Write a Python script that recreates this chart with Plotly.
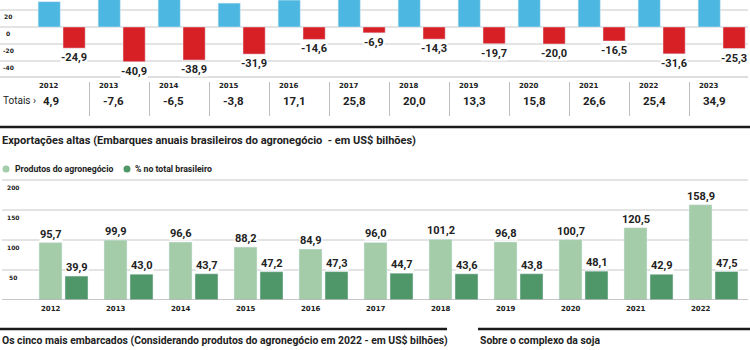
import plotly.graph_objects as go

# ---------------- data ----------------
years_top = ["2012", "2013", "2014", "2015", "2016", "2017", "2018", "2019", "2020", "2021", "2022", "2023"]
exports_top = [29.8, 33.3, 32.4, 28.1, 31.7, 32.7, 34.3, 33.0, 35.8, 43.1, 57.0, 60.2]
imports_top = [-24.9, -40.9, -38.9, -31.9, -14.6, -6.9, -14.3, -19.7, -20.0, -16.5, -31.6, -25.3]
totals_top = ["4,9", "-7,6", "-6,5", "-3,8", "17,1", "25,8", "20,0", "13,3", "15,8", "26,6", "25,4", "34,9"]
top_ticks = [20, 0, -20, -40]

years_bot = ["2012", "2013", "2014", "2015", "2016", "2017", "2018", "2019", "2020", "2021", "2022"]
agro_exports = [95.7, 99.9, 96.6, 88.2, 84.9, 96.0, 101.2, 96.8, 100.7, 120.5, 158.9]
share_total = [39.9, 43.0, 43.7, 47.2, 47.3, 44.7, 43.6, 43.8, 48.1, 42.9, 47.5]
bot_ticks = [200, 150, 100, 50]

title_mid = "Exportações altas (Embarques anuais brasileiros do agronegócio  - em US$ bilhões)"
legend_labels = ["Produtos do agronegócio", "% no total brasileiro"]
title_bot_left = "Os cinco mais embarcados (Considerando produtos do agronegócio em 2022 - em US$ bilhões)"
title_bot_right = "Sobre o complexo da soja"

# ---------------- style ----------------
W, H = 750, 350
BLUE = "#4cb8e2"
RED = "#d71f26"
LGREEN = "#a5cca9"
DGREEN = "#4f9668"
TXT = "#222222"
GRID = "#c8c8c8"
NARROW = "Roboto, sans-serif"
WIDE = "DejaVu Sans, sans-serif"


def py(p):
    return 1 - p / H


def px(p):
    return p / W


def fmt(v):
    return f"{v:.1f}".replace(".", ",")


fig = go.Figure()
xt = list(range(len(years_top)))
xb = list(range(len(years_bot)))

# top chart bars
fig.add_trace(go.Bar(x=xt, y=exports_top, marker_color=BLUE, offset=-0.39, width=0.37,
                     xaxis="x", yaxis="y", hoverinfo="skip"))
fig.add_trace(go.Bar(x=xt, y=imports_top, marker_color=RED, offset=0.025, width=0.37,
                     xaxis="x", yaxis="y", hoverinfo="skip"))
# bottom chart bars
fig.add_trace(go.Bar(x=xb, y=agro_exports, marker_color=LGREEN, offset=-0.377, width=0.354,
                     xaxis="x2", yaxis="y2", hoverinfo="skip"))
fig.add_trace(go.Bar(x=xb, y=share_total, marker_color=DGREEN, offset=0.023, width=0.354,
                     xaxis="x2", yaxis="y2", hoverinfo="skip"))

shapes = []
ann = []

# top gridlines + tick labels
for t in top_ticks:
    shapes.append(dict(type="line", xref="paper", yref="y", x0=0, x1=px(748), y0=t, y1=t,
                       line=dict(color=GRID, width=1), layer="below"))
    ann.append(dict(xref="paper", yref="y", x=px(8), y=t, yshift=-1, text=str(t), showarrow=False,
                    xanchor="center", yanchor="top", font=dict(family=WIDE, size=6, color=TXT,
                                                               weight="bold")))

# bar labels top
for i, v in enumerate(imports_top):
    ann.append(dict(xref="x", yref="y", x=i + 0.21, y=v, yshift=-2, text=fmt(v),
                    showarrow=False, xanchor="center", yanchor="top", bgcolor="white", borderpad=0,
                    font=dict(family=NARROW, size=11, color=TXT, weight="bold")))
for i, v in enumerate(exports_top):
    ann.append(dict(xref="x", yref="y", x=i - 0.205, y=v, yshift=2, text=fmt(v),
                    showarrow=False, xanchor="center", yanchor="bottom", bgcolor="white", borderpad=0,
                    font=dict(family=NARROW, size=11, color=TXT, weight="bold")))

# table under top chart
shapes.append(dict(type="line", xref="paper", yref="paper", x0=0, x1=px(748), y0=py(77), y1=py(77),
                   line=dict(color="#bdbdbd", width=1)))
for i in range(len(years_top) - 1):
    shapes.append(dict(type="line", xref="x", yref="paper", x0=i + 0.467, x1=i + 0.467,
                       y0=py(82), y1=py(116), line=dict(color="#bdbdbd", width=1)))
for i, y in enumerate(years_top):
    ann.append(dict(xref="x", yref="paper", x=i - 0.205, y=py(86), text=y, showarrow=False,
                    xanchor="center", yanchor="middle",
                    font=dict(family=WIDE, size=7, color=TXT, weight="bold")))
    ann.append(dict(xref="x", yref="paper", x=i - 0.345, y=py(100.5), text=totals_top[i], showarrow=False,
                    xanchor="left", yanchor="middle",
                    font=dict(family=NARROW, size=11.5, color=TXT, weight="bold")))
ann.append(dict(xref="paper", yref="paper", x=px(1), y=py(100.5), text="Totais ›", showarrow=False,
                xanchor="left", yanchor="middle", font=dict(family=NARROW, size=10, color=TXT)))

# middle section header
shapes.append(dict(type="line", xref="paper", yref="paper", x0=0, x1=1, y0=py(127), y1=py(127),
                   line=dict(color="#1a1a1a", width=2.5)))
ann.append(dict(xref="paper", yref="paper", x=px(0), y=py(141), text=title_mid, showarrow=False,
                xanchor="left", yanchor="middle",
                font=dict(family=NARROW, size=11, color=TXT, weight="bold")))

# legend
leg = [(6, 13, LGREEN, legend_labels[0]), (127, 133, DGREEN, legend_labels[1])]
for cx, tx, col, lab in leg:
    shapes.append(dict(type="circle", xref="paper", yref="paper", x0=px(cx - 3.5), x1=px(cx + 3.5),
                       y0=py(169 + 3.5), y1=py(169 - 3.5), fillcolor=col, line=dict(width=0)))
    ann.append(dict(xref="paper", yref="paper", x=px(tx), y=py(169), text=lab, showarrow=False,
                    xanchor="left", yanchor="middle",
                    font=dict(family=NARROW, size=8.7, color=TXT, weight="bold")))

# bottom gridlines + ticks
for t in bot_ticks:
    shapes.append(dict(type="line", xref="paper", yref="y2", x0=px(2), x1=px(748), y0=t, y1=t,
                       line=dict(color=GRID, width=1), layer="below"))
    ann.append(dict(xref="paper", yref="y2", x=px(13), y=t, yshift=-2, text=str(t), showarrow=False,
                    xanchor="center", yanchor="top",
                    font=dict(family=WIDE, size=6, color=TXT, weight="bold")))
shapes.append(dict(type="line", xref="paper", yref="y2", x0=px(2), x1=px(748), y0=0, y1=0,
                   line=dict(color="#b5b5b5", width=1.5), layer="above"))

for i, v in enumerate(agro_exports):
    ann.append(dict(xref="x2", yref="y2", x=i - 0.2, y=v, yshift=1, text=fmt(v),
                    showarrow=False, xanchor="center", yanchor="bottom", bgcolor="white", borderpad=0,
                    font=dict(family=NARROW, size=11, color=TXT, weight="bold")))
for i, v in enumerate(share_total):
    ann.append(dict(xref="x2", yref="y2", x=i + 0.2, y=v, yshift=1, text=fmt(v),
                    showarrow=False, xanchor="center", yanchor="bottom", bgcolor="white", borderpad=0,
                    font=dict(family=NARROW, size=11, color=TXT, weight="bold")))
for i, y in enumerate(years_bot):
    ann.append(dict(xref="x2", yref="paper", x=i - 0.2, y=py(308.5), text=y, showarrow=False,
                    xanchor="center", yanchor="middle",
                    font=dict(family=WIDE, size=7, color=TXT, weight="bold")))

# bottom section headers
shapes.append(dict(type="line", xref="paper", yref="paper", x0=0, x1=px(447), y0=py(329), y1=py(329),
                   line=dict(color="#1a1a1a", width=2.5)))
shapes.append(dict(type="line", xref="paper", yref="paper", x0=px(478), x1=1, y0=py(329), y1=py(329),
                   line=dict(color="#1a1a1a", width=2.5)))
ann.append(dict(xref="paper", yref="paper", x=px(0), y=py(340), text=title_bot_left, showarrow=False,
                xanchor="left", yanchor="middle",
                font=dict(family=NARROW, size=10.4, color=TXT, weight="bold")))
ann.append(dict(xref="paper", yref="paper", x=px(478), y=py(340), text=title_bot_right, showarrow=False,
                xanchor="left", yanchor="middle",
                font=dict(family=NARROW, size=10.4, color=TXT, weight="bold")))

fig.update_layout(
    width=W, height=H, margin=dict(l=0, r=0, t=0, b=0),
    paper_bgcolor="white", plot_bgcolor="white", showlegend=False,
    xaxis=dict(domain=[0, 1], range=[-61.5 / 60, (750 - 61.5) / 60], visible=False, fixedrange=True),
    yaxis=dict(domain=[py(70), 1], range=[-(70 - 27) / 0.85, 27 / 0.85], visible=False, fixedrange=True),
    xaxis2=dict(domain=[0, 1], range=[-63.5 / 65, (750 - 63.5) / 65], visible=False, anchor="y2",
                fixedrange=True),
    yaxis2=dict(domain=[py(300), py(175)], range=[0, 125 / 0.6], visible=False, anchor="x2",
                fixedrange=True),
    shapes=shapes, annotations=ann,
)

fig.write_html("out.html", config={"displayModeBar": False})
